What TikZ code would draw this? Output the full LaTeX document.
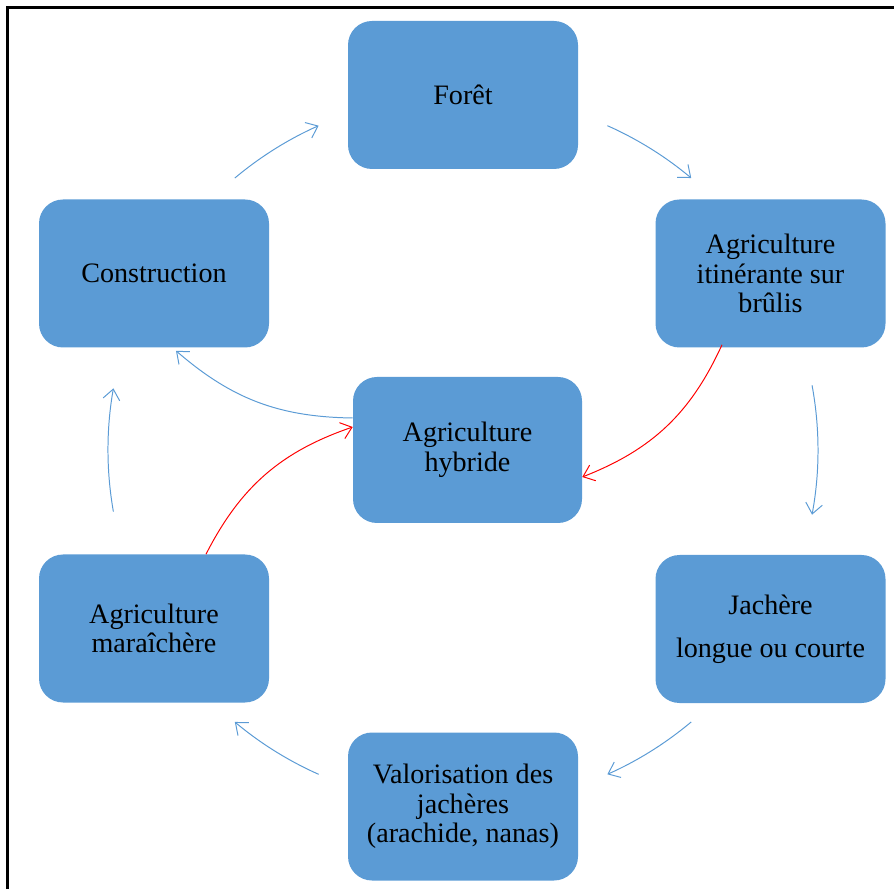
\documentclass[tikz,border=0pt]{standalone}
\usepackage{fontspec}
\setmainfont{Liberation Serif}
\usetikzlibrary{arrows.meta}

\definecolor{boxblue}{HTML}{5B9BD5}

\begin{document}
\begin{tikzpicture}[
    stage/.style={fill=boxblue, rounded corners=0.6cm, minimum width=5.75cm, minimum height=3.7cm,
                  align=center, font=\fontsize{20}{21}\selectfont},
    cyc/.style={draw=boxblue, line width=0.7pt, -{Straight Barb[length=2.6mm, width=4.2mm]}},
    back/.style={draw=red, line width=0.7pt, -{Straight Barb[length=2.6mm, width=4.2mm]}}
]
    \useasboundingbox (0,0) rectangle (22.35,22.225);

    % Frame
    \draw[line width=1.8pt] (0.1875,0) -- (0.1875,22.0375) -- (22.35,22.0375);

    % Nodes (Stages)
    \node[stage] (foret)   at (11.575,19.85)    {Forêt};
    \node[stage] (constr)  at (3.85,15.3875)    {Construction};
    \node[stage] (itin)    at (19.2625,15.3875) {Agriculture\\itinérante sur\\brûlis};
    \node[stage, minimum width=5.725cm, minimum height=3.65cm] (hybride) at (11.6875,10.975) {Agriculture\\hybride};
    \node[stage] (marai)   at (3.85,6.5125)     {Agriculture\\maraîchère};
    \node[stage] (jachere) at (19.2625,6.5)     {Jachère\\[0.33cm]longue ou courte};
    \node[stage] (valor)   at (11.575,2.0625)   {Valorisation des\\jachères\\(arachide, nanas)};

    % Cycle (arcs round the centre)
    \coordinate (ctr) at (11.575,10.975);
    \coordinate (c_cf) at ([shift={(130:8.875)}]ctr);
    \coordinate (c_fi) at ([shift={(66:8.875)}]ctr);
    \coordinate (c_ij) at ([shift={(10.5:8.875)}]ctr);
    \coordinate (c_jv) at ([shift={(-50:8.875)}]ctr);
    \coordinate (c_vm) at ([shift={(-114:8.875)}]ctr);
    \coordinate (c_mc) at ([shift={(190:8.875)}]ctr);

    % Edges
    % constr -> foret -> itin -> jachere -> valor -> marai -> constr
    \draw[cyc] (c_cf) arc[start angle=130,  end angle=114,   radius=8.875];
    \draw[cyc] (c_fi) arc[start angle=66,   end angle=50,    radius=8.875];
    \draw[cyc] (c_ij) arc[start angle=10.5, end angle=-10.5, radius=8.875];
    \draw[cyc] (c_jv) arc[start angle=-50,  end angle=-66,   radius=8.875];
    \draw[cyc] (c_vm) arc[start angle=-114, end angle=-130,  radius=8.875];
    \draw[cyc] (c_mc) arc[start angle=190,  end angle=170,   radius=8.875];

    % hybride -> constr
    \draw[cyc] ([yshift=0.8cm]hybride.west) to[bend left=20] ([xshift=0.55cm, yshift=-0.075cm]constr.south);

    % itin, marai -> hybride
    \draw[back] ([xshift=-1.2125cm, yshift=0.075cm]itin.south) to[bend left=22] ([yshift=-0.675cm]hybride.east);
    \draw[back] ([xshift=1.3cm]marai.north) to[bend left=22] ([yshift=0.575cm]hybride.west);

\end{tikzpicture}
\end{document}
